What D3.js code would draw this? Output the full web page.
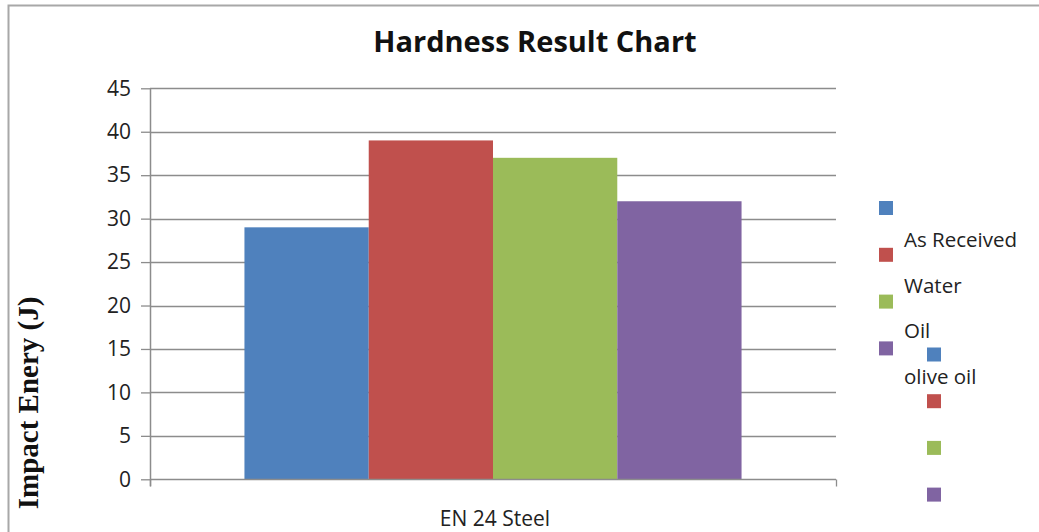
<!DOCTYPE html>
<html><head><meta charset="utf-8">
<script src="https://cdn.jsdelivr.net/npm/d3@7"></script>
<style>body{margin:0;background:#fff}svg{display:block}</style>
</head><body><svg id="c" width="1039" height="532"></svg>
<script>
const categories = ["EN 24 Steel"];
const seriesNames = ["Series 1", "Series 2", "Series 3", "Series 4"];
const seriesValues = [29, 39, 37, 32];
const seriesColors = ["#4F81BD", "#C0504D", "#9BBB59", "#8064A2"];
const legendLabels = ["As Received", "Water", "Oil", "olive oil"];
const yTicks = [0, 5, 10, 15, 20, 25, 30, 35, 40, 45];

(function () {
const svg = d3.select("#c");
const font = "'Open Sans', 'Liberation Sans', sans-serif";

// frame
svg.append("rect").attr("x", 8.5).attr("y", 5.5).attr("width", 1100).attr("height", 600)
  .attr("fill", "none").attr("stroke", "#a8a8a8").attr("stroke-width", 2);

const pL = 150, pR = 836, pT = 88.3, pB = 479.3;
const y = d3.scaleLinear().domain([0, 45]).range([pB, pT]);
const x0 = d3.scaleBand().domain(categories).range([pL, pR]).paddingInner(0).paddingOuter(0.19);
const x1 = d3.scaleBand().domain(seriesNames).range([0, x0.bandwidth()]).padding(0);

// gridlines
svg.append("g").selectAll("line").data(yTicks.filter(d => d > 0)).join("line")
  .attr("x1", pL).attr("x2", pR).attr("y1", d => Math.round(y(d)) + 0.5).attr("y2", d => Math.round(y(d)) + 0.5)
  .attr("stroke", "#8c8c8c").attr("stroke-width", 1.3);

// y axis
const yAxis = svg.append("g").attr("transform", `translate(${pL},0)`)
  .call(d3.axisLeft(y).tickValues(yTicks).tickSize(9).tickPadding(10));
yAxis.select(".domain").attr("stroke", "#8c8c8c").attr("stroke-width", 1.5).attr("d", `M0.5,${pT}V${pB + 7}`);
yAxis.selectAll(".tick line").attr("stroke", "#8c8c8c").attr("stroke-width", 1.3);
yAxis.selectAll(".tick text").attr("font-family", font).attr("font-size", 21).attr("fill", "#222");

// bars
const g = svg.append("g").selectAll("g").data(categories).join("g")
  .attr("transform", d => `translate(${x0(d)},0)`);
g.selectAll("rect").data(seriesNames.map((s, i) => ({ s, v: seriesValues[i], c: seriesColors[i] }))).join("rect")
  .attr("x", d => x1(d.s)).attr("width", x1.bandwidth())
  .attr("y", d => y(d.v)).attr("height", d => y(0) - y(d.v)).attr("fill", d => d.c);

// x axis
const xAxis = svg.append("g").attr("transform", `translate(0,${Math.round(pB) + 0.5})`)
  .call(d3.axisBottom(d3.scaleLinear().domain([0, 1]).range([pL, pR])).tickValues([0, 1]).tickSize(7).tickFormat(""));
xAxis.select(".domain").attr("stroke", "#8c8c8c").attr("stroke-width", 1.5).attr("d", `M${pL},0H${pR}`);
xAxis.selectAll(".tick line").attr("stroke", "#8c8c8c").attr("stroke-width", 1.3);
svg.append("text").attr("x", x0(categories[0]) + x0.bandwidth() / 2 + 2).attr("y", 526)
  .attr("text-anchor", "middle").attr("font-family", font).attr("font-size", 21).attr("fill", "#222").text(categories[0]);

// title
svg.append("text").attr("x", 535).attr("y", 52).attr("text-anchor", "middle")
  .attr("font-family", font).attr("font-weight", "bold").attr("font-size", 29).attr("fill", "#111")
  .text("Hardness Result Chart");

// y title
svg.append("text").attr("transform", "translate(38,403) rotate(-90)").attr("text-anchor", "middle")
  .attr("font-family", "'Liberation Serif', serif").attr("font-weight", "bold").attr("font-size", 29).attr("fill", "#111")
  .text("Impact Enery (J)");

// legend (as rendered in the reference, squares and labels misaligned)
const leg = svg.append("g");
leg.selectAll("rect.a").data(seriesColors).join("rect").attr("class", "a")
  .attr("x", 879).attr("y", (d, i) => 201 + i * 46.8).attr("width", 14).attr("height", 14).attr("fill", d => d);
leg.selectAll("rect.b").data(seriesColors).join("rect").attr("class", "b")
  .attr("x", 927).attr("y", (d, i) => 347.5 + i * 46.7).attr("width", 14).attr("height", 14).attr("fill", d => d);
leg.selectAll("text").data(legendLabels).join("text")
  .attr("x", 904).attr("y", (d, i) => 247 + i * 45.6)
  .attr("font-family", font).attr("font-size", 20.5).attr("fill", "#222").text(d => d);
})();
</script></body></html>
